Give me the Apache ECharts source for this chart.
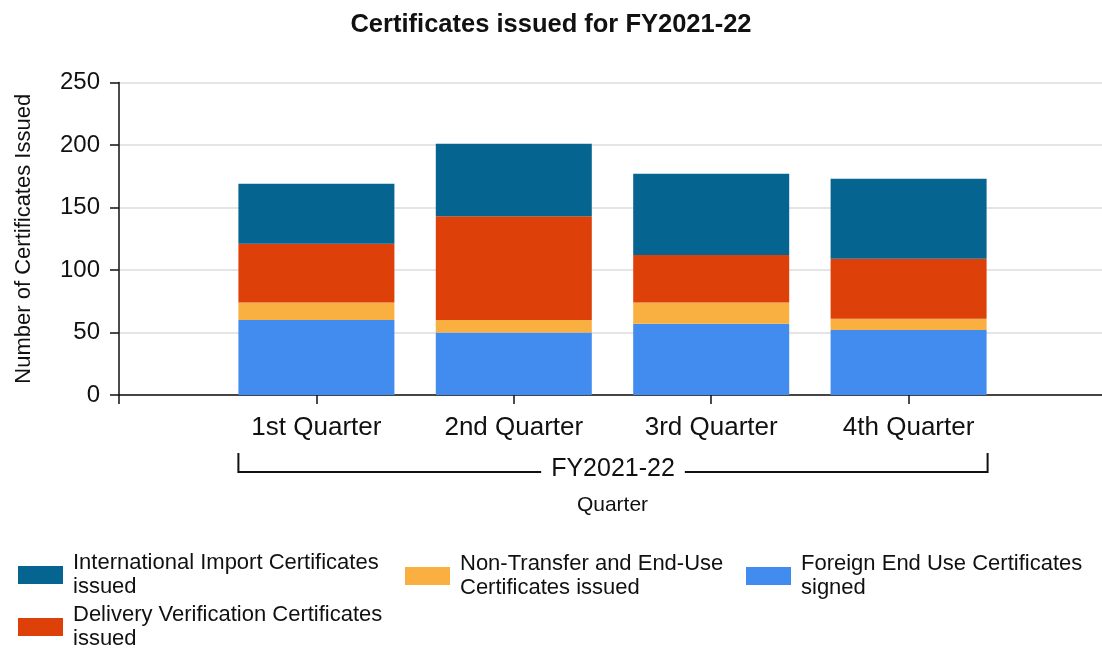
<!DOCTYPE html>
<html>
<head>
<meta charset="utf-8">
<script src="https://cdn.jsdelivr.net/npm/echarts@6/dist/echarts.min.js"></script>
<style>
html,body{margin:0;padding:0;background:#fff;}
#chart{width:1102px;height:650px;}
</style>
</head>
<body>
<div id="chart"></div>
<script>
const titleText = 'Certificates issued for FY2021-22';
const categories = ['1st Quarter', '2nd Quarter', '3rd Quarter', '4th Quarter'];
const groupLabel = 'FY2021-22';
const xAxisName = 'Quarter';
const yAxisName = 'Number of Certificates Issued';
const yTicks = [0, 50, 100, 150, 200, 250];

const seriesNames = [
  'Foreign End Use Certificates signed',
  'Non-Transfer and End-Use Certificates issued',
  'Delivery Verification Certificates issued',
  'International Import Certificates issued'
];
const legendLabels = [
  'Foreign End Use Certificates\nsigned',
  'Non-Transfer and End-Use\nCertificates issued',
  'Delivery Verification Certificates\nissued',
  'International Import Certificates\nissued'
];
const foreignEndUse = [60, 50, 57, 52];
const nonTransfer = [14, 10, 17, 9];
const deliveryVerification = [47, 83, 38, 48];
const internationalImport = [48, 58, 65, 64];
const seriesValues = [foreignEndUse, nonTransfer, deliveryVerification, internationalImport];
const seriesColors = ['#428bef', '#fab040', '#de400a', '#066491'];

const FONT = "'Liberation Sans', Arial, sans-serif";
const BAR_W = 156;

const paddedCats = [''].concat(categories, ['']);
const labelMap = {};
seriesNames.forEach((n, i) => { labelMap[n] = legendLabels[i]; });

const chart = echarts.init(document.getElementById('chart'), null, {renderer: 'canvas'});

const legendCommon = {
  orient: 'vertical',
  itemWidth: 45,
  itemHeight: 18,
  itemGap: 5,
  padding: 0,
  selectedMode: false,
  icon: 'rect',
  formatter: n => labelMap[n],
  textStyle: {fontFamily: FONT, fontSize: 22, lineHeight: 24, color: '#111', padding: [0, 0, 0, 5]}
};

const option = {
  animation: false,
  backgroundColor: '#fff',
  title: {
    text: titleText,
    left: 'center',
    top: 7,
    textStyle: {fontFamily: FONT, fontSize: 25.5, fontWeight: 'bold', color: '#111'}
  },
  legend: [
    Object.assign({}, legendCommon, {left: 18, top: 551, data: [seriesNames[3]]}),
    Object.assign({}, legendCommon, {left: 18, top: 603, data: [seriesNames[2]]}),
    Object.assign({}, legendCommon, {left: 405, top: 552, data: [seriesNames[1]]}),
    Object.assign({}, legendCommon, {left: 746, top: 552, data: [seriesNames[0]]})
  ],
  grid: {left: 119, width: 987, top: 82.5, bottom: 255, containLabel: false, outerBoundsMode: 'none'},
  xAxis: {
    type: 'category',
    data: paddedCats,
    boundaryGap: false,
    name: xAxisName,
    nameLocation: 'middle',
    nameGap: 100,
    nameTextStyle: {fontFamily: FONT, fontSize: 21, color: '#111', verticalAlign: 'top'},
    axisLine: {lineStyle: {color: '#111', width: 1.5}},
    axisTick: {
      length: 9,
      lineStyle: {color: '#111', width: 1.5},
      interval: (i, v) => v !== '' || i === 0
    },
    axisLabel: {fontFamily: FONT, fontSize: 26, color: '#111', margin: 20, interval: 0},
    splitLine: {show: false}
  },
  yAxis: {
    type: 'value',
    min: yTicks[0],
    max: yTicks[yTicks.length - 1],
    interval: yTicks[1] - yTicks[0],
    name: yAxisName,
    nameLocation: 'middle',
    nameGap: 84,
    nameTextStyle: {fontFamily: FONT, fontSize: 22, color: '#111'},
    axisLine: {show: true, lineStyle: {color: '#111', width: 1.5}},
    axisTick: {show: true, length: 9, lineStyle: {color: '#111', width: 1.5}},
    axisLabel: {fontFamily: FONT, fontSize: 24, color: '#111', margin: 19},
    splitLine: {show: true, lineStyle: {color: '#dcdcdc', width: 1.5}}
  },
  series: seriesNames.map((name, i) => ({
    name: name,
    type: 'bar',
    stack: 'total',
    barWidth: BAR_W,
    itemStyle: {color: seriesColors[i]},
    data: [null].concat(seriesValues[i], [null])
  }))
};

chart.setOption(option);

// Category group bracket under the axis labels, positioned from the axis scale
const firstX = chart.convertToPixel({xAxisIndex: 0}, categories[0]);
const lastX = chart.convertToPixel({xAxisIndex: 0}, categories[categories.length - 1]);
const bl = firstX - BAR_W / 2;
const br = lastX + BAR_W / 2 + 1;
const bTop = 453, bBot = 472;
chart.setOption({
  graphic: [
    {
      type: 'polyline',
      shape: {points: [[bl, bTop], [bl, bBot], [br, bBot], [br, bTop]]},
      style: {stroke: '#111', lineWidth: 2, fill: null},
      silent: true
    },
    {
      type: 'text',
      x: (bl + br) / 2,
      y: 469,
      style: {
        text: groupLabel,
        fontFamily: FONT,
        fontSize: 25,
        fill: '#111',
        align: 'center',
        verticalAlign: 'middle',
        backgroundColor: '#fff',
        padding: [0, 10]
      },
      silent: true
    }
  ]
});
</script>
</body>
</html>
